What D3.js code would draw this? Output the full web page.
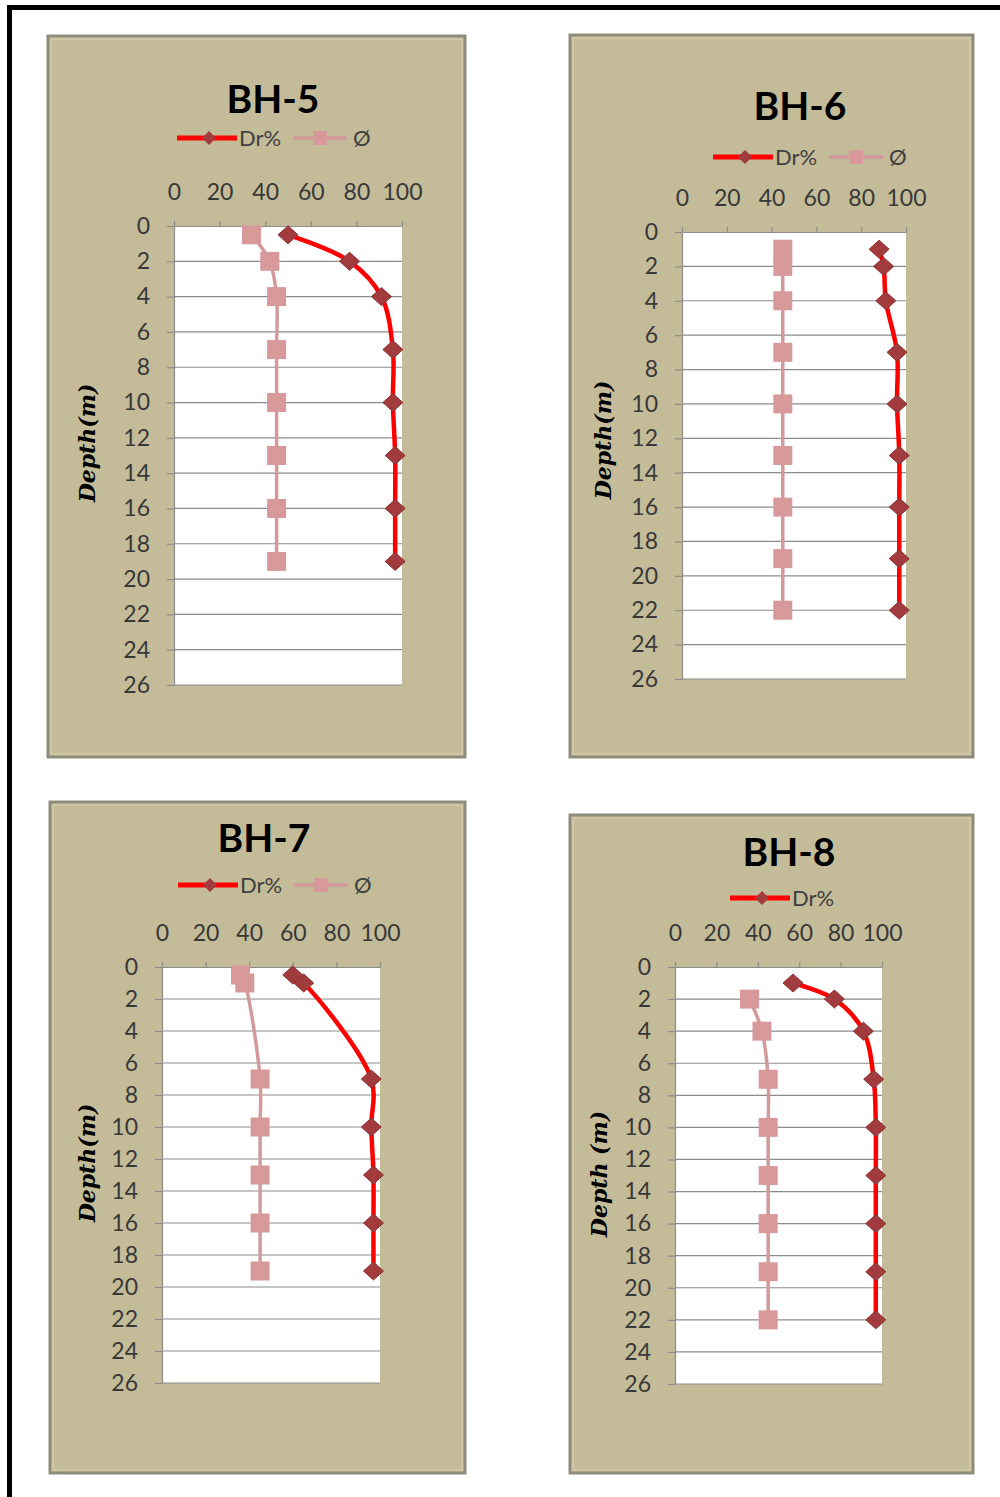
<!DOCTYPE html>
<html>
<head>
<meta charset="utf-8">
<script src="https://cdn.jsdelivr.net/npm/d3@7/dist/d3.min.js"></script>
<style>
  html, body { margin: 0; padding: 0; background: #fff; }
  svg { display: block; }
</style>
</head>
<body>
<svg id="chart" width="1000" height="1497"></svg>
<script>
// Borehole profiles: relative density (Dr%) and friction angle (Ø) against depth.
const xTicks = [0, 20, 40, 60, 80, 100];
const yTicks = [0, 2, 4, 6, 8, 10, 12, 14, 16, 18, 20, 22, 24, 26];

const bh5Depth = [0.5, 2, 4, 7, 10, 13, 16, 19];
const bh5Dr    = [50, 77, 91, 96, 96, 97, 97, 97];
const bh5Phi   = [34, 42, 45, 45, 45, 45, 45, 45];

const bh6Depth = [1, 2, 4, 7, 10, 13, 16, 19, 22];
const bh6Dr    = [88, 90, 91, 96, 96, 97, 97, 97, 97];
const bh6Phi   = [45, 45, 45, 45, 45, 45, 45, 45, 45];

const bh7Depth = [0.5, 1, 7, 10, 13, 16, 19];
const bh7Dr    = [60, 65, 96, 96, 97, 97, 97];
const bh7Phi   = [36, 38, 45, 45, 45, 45, 45];

const bh8DrDepth  = [1, 2, 4, 7, 10, 13, 16, 19, 22];
const bh8Dr       = [57, 77, 91, 96, 97, 97, 97, 97, 97];
const bh8PhiDepth = [2, 4, 7, 10, 13, 16, 19, 22];
const bh8Phi      = [36, 42, 45, 45, 45, 45, 45, 45];

const panels = [
  { title: "BH-5", yLabel: "Depth(m)", showPhiLegend: true,
    box: [48, 36, 417, 721], plot: [174, 402, 226, 685],
    titleXY: [273, 113], legendXY: [177, 138], yLabelXY: [95, 443],
    dr: { depth: bh5Depth, val: bh5Dr }, phi: { depth: bh5Depth, val: bh5Phi } },
  { title: "BH-6", yLabel: "Depth(m)", showPhiLegend: true,
    box: [570, 35, 403, 722], plot: [682, 906, 232, 679],
    titleXY: [800, 120], legendXY: [713, 157], yLabelXY: [611, 440],
    dr: { depth: bh6Depth, val: bh6Dr }, phi: { depth: bh6Depth, val: bh6Phi } },
  { title: "BH-7", yLabel: "Depth(m)", showPhiLegend: true,
    box: [50, 802, 415, 671], plot: [162, 380, 967, 1383],
    titleXY: [264, 852], legendXY: [178, 885], yLabelXY: [95, 1163],
    dr: { depth: bh7Depth, val: bh7Dr }, phi: { depth: bh7Depth, val: bh7Phi } },
  { title: "BH-8", yLabel: "Depth (m)", showPhiLegend: false,
    box: [570, 815, 403, 658], plot: [675, 882, 967, 1384],
    titleXY: [789, 866], legendXY: [730, 898], yLabelXY: [607, 1174],
    dr: { depth: bh8DrDepth, val: bh8Dr }, phi: { depth: bh8PhiDepth, val: bh8Phi } }
];

const DR_LINE = "#ff0000", DR_MARK = "#a23b3d";
const PHI_LINE = "#d29a9b", PHI_MARK = "#d8999b";
const GRID = "#8c8c8c", TICK_TEXT = "#383838";
const SANS = "Lato, 'Open Sans', sans-serif";

const svg = d3.select("#chart");

// page frame (top and left edges show)
svg.append("rect")
  .attr("x", 9.5).attr("y", 7.5).attr("width", 1200).attr("height", 1700)
  .attr("fill", "none").attr("stroke", "#000").attr("stroke-width", 5);

function diamondPath(w, h) {
  return `M0,${-h}L${w},0L0,${h}L${-w},0Z`;
}

function drawPanel(p) {
  const g = svg.append("g");
  const [bx, by, bw, bh] = p.box;
  const [pl, pr, pt, pb] = p.plot;

  // chart area with bevelled edge
  g.append("rect").attr("x", bx).attr("y", by).attr("width", bw).attr("height", bh)
    .attr("fill", "#c4bc98").attr("stroke", "#8f8c7c").attr("stroke-width", 3);
  g.append("rect").attr("x", bx + 3).attr("y", by + 3).attr("width", bw - 6).attr("height", bh - 6)
    .attr("fill", "none").attr("stroke", "#d3cca9").attr("stroke-width", 1.5);

  const x = d3.scaleLinear().domain([0, 100]).range([pl, pr]);
  const y = d3.scaleLinear().domain([0, 26]).range([pt, pb]);

  // plot area
  g.append("rect").attr("x", pl).attr("y", pt).attr("width", pr - pl).attr("height", pb - pt)
    .attr("fill", "#fff");

  // horizontal gridlines
  g.append("g").selectAll("line").data(yTicks.filter(d => d > 0)).join("line")
    .attr("x1", pl).attr("x2", pr)
    .attr("y1", d => y(d)).attr("y2", d => y(d))
    .attr("stroke", GRID).attr("stroke-width", 1.2);

  // top axis
  const xAxis = g.append("g").attr("transform", `translate(0,${pt})`)
    .call(d3.axisTop(x).tickValues(xTicks).tickSize(5).tickSizeOuter(0).tickPadding(21));
  // left axis
  const yAxis = g.append("g").attr("transform", `translate(${pl},0)`)
    .call(d3.axisLeft(y).tickValues(yTicks).tickSize(7).tickSizeOuter(0).tickPadding(17));

  [xAxis, yAxis].forEach(a => {
    a.select(".domain").attr("stroke", GRID).attr("stroke-width", 1.2);
    a.selectAll(".tick line").attr("stroke", GRID).attr("stroke-width", 1.2);
    a.selectAll(".tick text").attr("fill", TICK_TEXT)
      .style("font-family", SANS).style("font-size", "23px");
  });

  // title
  g.append("text").attr("x", p.titleXY[0]).attr("y", p.titleXY[1])
    .attr("text-anchor", "middle").attr("fill", "#000")
    .style("font-family", SANS).style("font-weight", "bold").style("font-size", "39px")
    .text(p.title);

  // depth axis title
  g.append("text")
    .attr("transform", `translate(${p.yLabelXY[0]},${p.yLabelXY[1]}) rotate(-90)`)
    .attr("text-anchor", "middle").attr("fill", "#000")
    .style("font-family", "'DejaVu Serif', serif").style("font-weight", "bold")
    .style("font-style", "italic").style("font-size", "22px")
    .text(p.yLabel);

  const line = d3.line().curve(d3.curveCatmullRom.alpha(0.5))
    .x(d => x(d.v)).y(d => y(d.d));

  const drPts = p.dr.depth.map((d, i) => ({ d, v: p.dr.val[i] }));
  const phiPts = p.phi.depth.map((d, i) => ({ d, v: p.phi.val[i] }));

  // Dr% series
  g.append("path").datum(drPts).attr("d", line)
    .attr("fill", "none").attr("stroke", DR_LINE).attr("stroke-width", 4.5)
    .attr("stroke-linejoin", "round");
  g.append("g").selectAll("path").data(drPts).join("path")
    .attr("transform", d => `translate(${x(d.v)},${y(d.d)})`)
    .attr("d", diamondPath(10, 9))
    .attr("fill", DR_MARK).attr("stroke", "#8e3234").attr("stroke-width", 1);

  // Ø series
  g.append("path").datum(phiPts).attr("d", line)
    .attr("fill", "none").attr("stroke", PHI_LINE).attr("stroke-width", 3.5)
    .attr("stroke-linejoin", "round");
  g.append("g").selectAll("rect").data(phiPts).join("rect")
    .attr("x", d => x(d.v) - 9.5).attr("y", d => y(d.d) - 9.5)
    .attr("width", 19).attr("height", 19)
    .attr("fill", PHI_MARK);

  // legend
  const [lx, ly] = p.legendXY;
  const lg = g.append("g").attr("transform", `translate(${lx},${ly})`);
  lg.append("line").attr("x1", 0).attr("x2", 60).attr("y1", 0).attr("y2", 0)
    .attr("stroke", DR_LINE).attr("stroke-width", 5);
  lg.append("path").attr("transform", "translate(32,0)").attr("d", diamondPath(7, 7))
    .attr("fill", DR_MARK);
  lg.append("text").attr("x", 62).attr("y", 0).attr("dy", "0.36em")
    .attr("fill", "#404040").style("font-family", SANS).style("font-size", "22px")
    .text("Dr%");
  if (p.showPhiLegend) {
    lg.append("line").attr("x1", 116).attr("x2", 170).attr("y1", 0).attr("y2", 0)
      .attr("stroke", PHI_LINE).attr("stroke-width", 3.5);
    lg.append("rect").attr("x", 136).attr("y", -7).attr("width", 14).attr("height", 14)
      .attr("fill", PHI_MARK);
    lg.append("text").attr("x", 176).attr("y", 0).attr("dy", "0.36em")
      .attr("fill", "#404040").style("font-family", SANS).style("font-size", "22px")
      .text("Ø");
  }
}

panels.forEach(drawPanel);
</script>
</body>
</html>
